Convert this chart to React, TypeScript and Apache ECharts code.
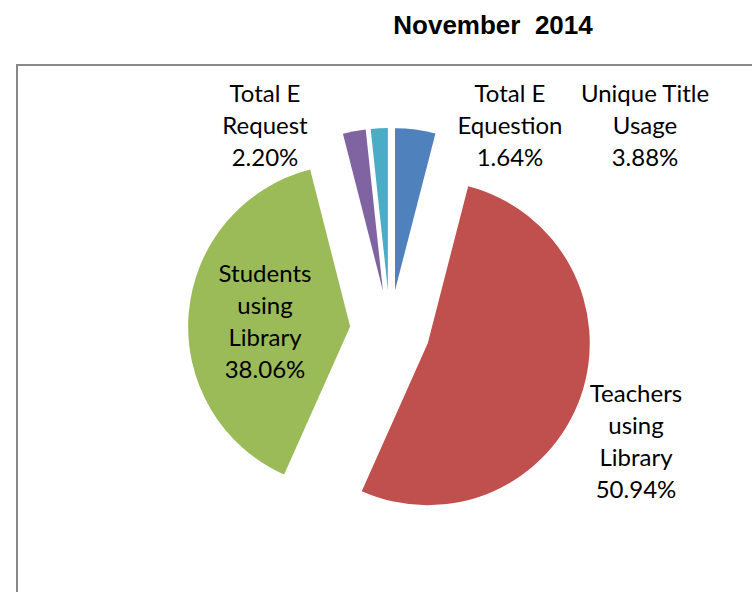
import React, { useEffect, useRef } from "react";
import * as echarts from "echarts";

const title = "November  2014";
const categories = [
  "Unique Title\nUsage",
  "Teachers\nusing\nLibrary",
  "Students\nusing\nLibrary",
  "Total E\nRequest",
  "Total E\nEquestion",
];
const values = [3.88, 50.94, 38.06, 2.2, 1.64];
const colors = ["#4F81BD", "#C0504D", "#9BBB59", "#8064A2", "#4BACC6"];

// label anchor points (label centres) in px
const labelPos: [number, number][] = [
  [645, 124],
  [636, 440],
  [265, 320],
  [265, 124],
  [510, 124],
];

export default function App() {
  const ref = useRef<HTMLDivElement>(null);
  useEffect(() => {
    if (!ref.current) return;
    const chart = echarts.init(ref.current, null, { renderer: "svg" });
    chart.setOption({
      animation: false,
      backgroundColor: "#ffffff",
      title: {
        text: title,
        left: 488,
        top: 7,
        textAlign: "center",
        textStyle: {
          fontFamily: "Liberation Sans, Arial, sans-serif",
          fontSize: 26,
          fontWeight: "bold",
          color: "#000",
        },
      },
      graphic: [
        {
          type: "rect",
          shape: { x: 17, y: 65, width: 800, height: 600 },
          style: { fill: "none", stroke: "#888888", lineWidth: 2 },
          silent: true,
        },
      ],
      series: [
        {
          type: "pie",
          center: [390, 330],
          radius: [0, 162],
          startAngle: 90,
          clockwise: true,
          selectedMode: "multiple",
          selectedOffset: 40,
          emphasis: { disabled: true },
          labelLine: { show: false },
          label: { show: false },
          data: categories.map((name, i) => ({
            name,
            value: values[i],
            selected: true,
            itemStyle: { color: colors[i] },
          })),
        },
        {
          type: "pie",
          center: [390, 330],
          radius: [0, 162],
          startAngle: 90,
          clockwise: true,
          silent: true,
          selectedMode: false,
          emphasis: { disabled: true },
          avoidLabelOverlap: false,
          itemStyle: { color: "rgba(0,0,0,0)", borderWidth: 0 },
          labelLine: { show: false },
          label: {
            show: true,
            position: "outside",
            color: "#000",
            fontFamily: "Lato, 'Open Sans', sans-serif",
            fontSize: 24,
            lineHeight: 32,
            align: "center",
            formatter: (p: any) => `${p.name}\n${p.value.toFixed(2)}%`,
          },
          labelLayout: (p: any) => ({
            x: labelPos[p.dataIndex][0],
            y: labelPos[p.dataIndex][1],
            align: "center",
            verticalAlign: "middle",
          }),
          data: categories.map((name, i) => ({ name, value: values[i] })),
        },
      ],
    });
    return () => chart.dispose();
  }, []);
  return (
    <div
      ref={ref}
      style={{ position: "fixed", left: 0, top: 0, width: 752, height: 592 }}
    />
  );
}
